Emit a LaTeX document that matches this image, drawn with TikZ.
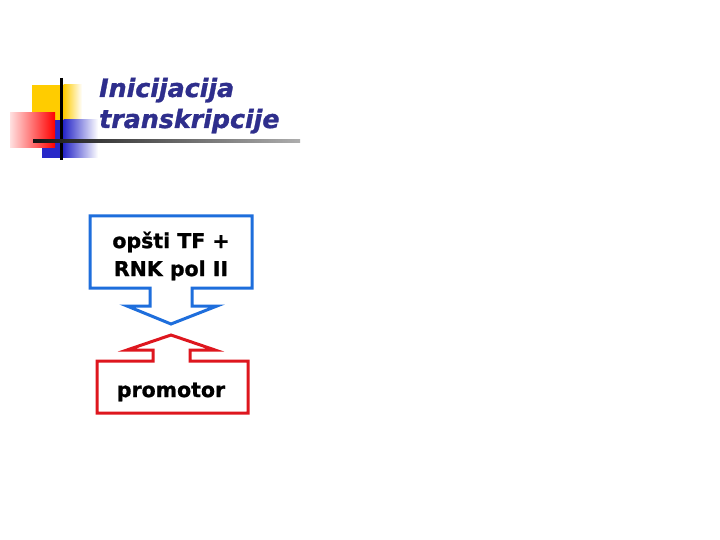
\documentclass[tikz,border=0pt]{standalone}
\usepackage{fontspec}
\newfontfamily\heavy{DejaVu Sans}[UprightFont=* Bold, ItalicFont=* Bold Oblique, FakeBold=1.2]
\definecolor{titleblue}{RGB}{46,46,140}
\definecolor{boxblue}{RGB}{30,110,220}
\definecolor{boxred}{RGB}{222,22,30}
\definecolor{logoyellow}{RGB}{255,204,0}
\definecolor{logored}{RGB}{255,0,0}
\definecolor{logoblue}{RGB}{40,40,200}
\tikzset{
  outline/.style={line width=3pt, line join=miter},
  boxtext/.style={font=\heavy\fontsize{20.5}{28}\selectfont, align=center, inner sep=0pt, text=black},
  titletext/.style={font=\heavy\itshape\fontsize{25.3}{31}\selectfont, text=titleblue, inner sep=0pt, anchor=base west}
}
\begin{document}
\begin{tikzpicture}[x=1pt,y=-1pt]
\useasboundingbox[fill=white] (0,0) rectangle (720,540);
% logo
\fill[logoyellow] (32,85) rectangle (64,134);
\shade[left color=logoyellow, right color=white] (63.5,85) rectangle (82,134);
\fill[logoblue] (42,120) rectangle (64,158);
\shade[left color=logoblue, right color=white] (63.5,120) rectangle (98,158);
\shade[left color=red!12, right color=logored] (10,113) rectangle (55,148);
\draw[line width=3pt, black] (61,78) -- (61,160);
\shade[left color=black!92, right color=black!32] (33,139.5) rectangle (300,142.5);
% title
\node[titletext] (title1) at (99,97) {Inicijacija};
\node[titletext] (title2) at (99,128) {transkripcije};
% blue callout
\node[boxtext] (tf) at (171,256) {opšti TF +\\RNK pol II};
\coordinate (btip) at (171,324);
\draw[outline, boxblue] (90,216) -- (252,216) -- (252,288) -- (192,288) -- (192,306)
  -- (217,306) -- (btip) -- (127,306) -- (150,306) -- (150,288) -- (90,288) -- cycle;
% red callout
\node[boxtext] (prom) at (171,392) {promotor};
\coordinate (rtip) at (171,335);
\draw[outline, boxred] (97,361) -- (153,361) -- (153,350) -- (127,350) -- (rtip)
  -- (215,350) -- (190,350) -- (190,361) -- (248,361) -- (248,413) -- (97,413) -- cycle;
\end{tikzpicture}
\end{document}
